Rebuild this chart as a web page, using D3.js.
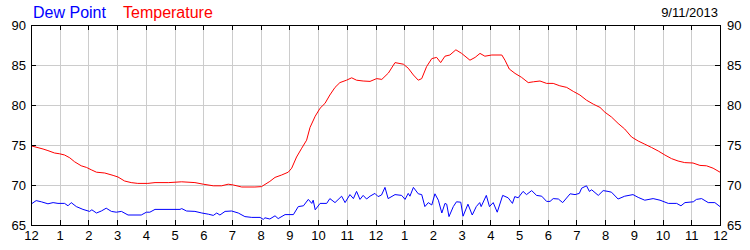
<!DOCTYPE html>
<html>
<head>
<meta charset="utf-8">
<script src="https://cdn.jsdelivr.net/npm/d3@7"></script>
<style>
  body { margin: 0; background: #fff; }
  svg { display: block; font-family: "Liberation Sans", Arial, sans-serif; }
  .grid line { stroke: #cccccc; shape-rendering: crispEdges; }
  .axis path, .axis line { stroke: #000; shape-rendering: crispEdges; }
  .axis text { font-size: 13px; fill: #000; }
</style>
</head>
<body>
<div id="chart"></div>
<script>
// hour labels along the bottom (midnight to midnight)
var hourLabels = ["12","1","2","3","4","5","6","7","8","9","10","11","12","1","2","3","4","5","6","7","8","9","10","11","12"];
var tempTicks = [65, 70, 75, 80, 85, 90];

// temperature readings (hour of day, deg F)
var tempHours = [0, 0.42, 0.59, 0.82, 1.0, 1.17, 1.35, 1.52, 1.75, 1.93, 2.1, 2.28, 2.57, 2.86, 3.03, 3.26, 3.49, 3.72, 4.07,
  4.32, 4.8, 5.25, 5.71, 6.0, 6.35, 6.64, 6.87, 7.05, 7.34, 7.8, 8.03, 8.32, 8.5, 8.73, 8.96, 9.08, 9.25, 9.43, 9.6, 9.72, 9.9,
  10.07, 10.24, 10.41, 10.59, 10.76, 10.99, 11.17, 11.34, 11.57, 11.81, 12.04, 12.22, 12.45, 12.68, 12.97, 13.14, 13.32, 13.49,
  13.61, 13.78, 13.96, 14.13, 14.27, 14.42, 14.59, 14.8, 15.0, 15.29, 15.47, 15.64, 15.81, 16.05, 16.4, 16.51, 16.66, 16.86,
  17.09, 17.32, 17.5, 17.73, 17.96, 18.19, 18.42, 18.66, 18.89, 19.12, 19.35, 19.59, 19.82, 19.99, 20.22, 20.45, 20.68, 20.92,
  21.15, 21.38, 21.61, 21.85, 22.08, 22.31, 22.54, 22.77, 23.06, 23.3, 23.53, 23.76, 24];
var tempValues = [74.9, 74.5, 74.3, 74.0, 73.9, 73.75, 73.4, 72.9, 72.4, 72.2, 71.9, 71.6, 71.5, 71.2, 71.0, 70.5, 70.3, 70.2, 70.2,
  70.3, 70.3, 70.4, 70.3, 70.1, 69.9, 69.9, 70.1, 70.0, 69.75, 69.75, 69.8, 70.45, 70.95, 71.25, 71.6, 72.1, 73.5, 74.6, 75.6, 77.2, 78.6,
  79.6, 80.2, 81.25, 82.2, 82.8, 83.1, 83.4, 83.1, 83.0, 82.95, 83.3, 83.2, 84.0, 85.3, 85.1, 84.6, 83.75, 83.1,
  83.3, 84.8, 85.8, 85.95, 85.3, 86.1, 86.25, 86.9, 86.45, 85.6, 85.95, 86.45, 86.1, 86.25, 86.25, 85.6, 84.5, 83.95,
  83.45, 82.8, 82.9, 83.0, 82.7, 82.7, 82.4, 82.2, 81.7, 81.25, 80.6, 80.1, 79.7, 79.1, 78.5, 77.7, 77.0, 76.0,
  75.5, 75.1, 74.7, 74.25, 73.75, 73.3, 73.0, 72.8, 72.75, 72.45, 72.4, 72.1, 71.6];

// dew point readings (hour of day, deg F)
var dewHours = [0, 0.18, 0.36, 0.59, 0.77, 0.94, 1.17, 1.29, 1.4, 1.58, 1.81, 2.04, 2.12, 2.28, 2.45, 2.62, 2.8, 2.97, 3.15, 3.38,
  3.84, 4.02, 4.14, 4.32, 5.19, 5.25, 5.42, 5.71, 5.95, 6.18, 6.35, 6.47, 6.58, 6.76, 6.99, 7.22, 7.45, 7.69, 7.98, 8.09,
  8.15, 8.32, 8.5, 8.61, 8.85, 9.14, 9.31, 9.49, 9.66, 9.78, 9.83, 9.9, 10.07, 10.3, 10.41, 10.59, 10.82, 10.94, 11.11, 11.23,
  11.34, 11.46, 11.57, 11.69, 11.81, 11.98, 12.09, 12.21, 12.33, 12.44, 12.68, 12.91, 13.03, 13.14, 13.2, 13.32, 13.49, 13.61,
  13.72, 13.84, 13.96, 14.07, 14.19, 14.31, 14.42, 14.48, 14.56, 14.71, 14.82, 14.97, 15.05, 15.22, 15.37, 15.51, 15.63, 15.68,
  15.86, 15.97, 16.1, 16.24, 16.43, 16.62, 16.77, 16.85, 16.97, 17.14, 17.26, 17.44, 17.61, 17.79, 17.96, 18.08, 18.19, 18.37,
  18.52, 18.78, 18.95, 19.1, 19.18, 19.35, 19.45, 19.53, 19.76, 19.93, 20.1, 20.22, 20.45, 20.68, 20.97, 21.15, 21.38, 21.67,
  21.91, 22.2, 22.49, 22.64, 22.78, 23.07, 23.18, 23.36, 23.59, 23.82, 24];
var dewValues = [67.6, 68.05, 67.9, 67.65, 67.8, 67.7, 67.7, 67.4, 67.8, 67.3, 66.95, 66.7, 66.9, 66.5, 66.75, 67.1, 66.7, 66.6, 66.7, 66.25,
  66.25, 66.6, 66.6, 66.95, 66.95, 67.05, 66.75, 66.7, 66.5, 66.35, 66.2, 66.5, 66.25, 66.7, 66.75, 66.5, 66.05, 65.95, 65.95, 65.7,
  65.9, 65.75, 66.15, 65.8, 66.3, 66.3, 67.3, 67.4, 68.2, 67.7, 68.1, 66.9, 67.7, 67.7, 68.3, 67.8, 68.6, 67.8, 68.8, 68.3,
  69.2, 68.2, 68.7, 68.25, 68.6, 68.95, 68.55, 68.75, 69.7, 68.3, 68.8, 68.7, 68.2, 68.95, 68.6, 69.7, 68.9, 68.8,
  67.3, 67.8, 67.5, 68.9, 68.1, 66.5, 67.7, 67.6, 66.05, 67.3, 67.9, 67.85, 66.1, 67.6, 66.25, 67.3, 67.8, 67.3,
  68.7, 67.3, 67.8, 66.6, 68.7, 68.4, 67.7, 68.55, 68.4, 69.2, 68.8, 69.3, 68.7, 68.6, 67.95, 67.95, 68.3, 68.25,
  67.8, 68.9, 68.8, 68.95, 69.6, 69.9, 69.2, 69.4, 68.7, 69.3, 69.2, 69.1, 68.25, 68.6, 68.8, 68.45, 68.1, 68.3,
  68.1, 67.7, 67.7, 67.4, 67.8, 67.9, 68.2, 68.3, 67.8, 67.8, 67.3];

var chartDate = "9/11/2013";

var width = 750,
    height = 250;
var margin = { top: 25, right: 30, bottom: 25, left: 31 };
var plotW = width - margin.left - margin.right,
    plotH = height - margin.top - margin.bottom;

var svg = d3.select("#chart").append("svg")
    .attr("width", width)
    .attr("height", height);

var x = d3.scaleLinear().domain([0, 24]).range([0, plotW]);
var y = d3.scaleLinear().domain([65, 90]).range([plotH, 0]);

var g = svg.append("g")
    .attr("transform", "translate(" + margin.left + "," + margin.top + ")");

var hourTicks = d3.range(0, 25);

// grid
g.append("g").attr("class", "grid")
    .selectAll("line.v")
    .data(hourTicks.slice(1, -1))
    .enter().append("line")
    .attr("x1", function (d) { return Math.round(x(d)) + 0.5; })
    .attr("x2", function (d) { return Math.round(x(d)) + 0.5; })
    .attr("y1", 0)
    .attr("y2", plotH);

g.append("g").attr("class", "grid")
    .selectAll("line.h")
    .data(tempTicks.slice(1, -1))
    .enter().append("line")
    .attr("x1", 0)
    .attr("x2", plotW)
    .attr("y1", function (d) { return Math.round(y(d)) + 0.5; })
    .attr("y2", function (d) { return Math.round(y(d)) + 0.5; });

// lines
var dewData = dewHours.map(function (h, i) { return [h, dewValues[i]]; });
var tempData = tempHours.map(function (h, i) { return [h, tempValues[i]]; });

var line = d3.line()
    .x(function (d) { return x(d[0]); })
    .y(function (d) { return y(d[1]); });

g.append("path")
    .datum(dewData)
    .attr("d", line)
    .attr("fill", "none")
    .attr("stroke", "#0000ff")
    .attr("stroke-width", 1);

g.append("path")
    .datum(tempData)
    .attr("d", line)
    .attr("fill", "none")
    .attr("stroke", "#ff0000")
    .attr("stroke-width", 1);

// axes, ticks pointing inside
var xBottom = d3.axisBottom(x)
    .tickValues(hourTicks)
    .tickFormat(function (d) { return hourLabels[d]; })
    .tickSizeInner(-5).tickSizeOuter(0).tickPadding(4);

var xTop = d3.axisTop(x)
    .tickValues(hourTicks)
    .tickFormat("")
    .tickSizeInner(-5).tickSizeOuter(0);

var yLeft = d3.axisLeft(y)
    .tickValues(tempTicks)
    .tickSizeInner(-5).tickSizeOuter(0).tickPadding(5);

var yRight = d3.axisRight(y)
    .tickValues(tempTicks)
    .tickSizeInner(-5).tickSizeOuter(0).tickPadding(7);

g.append("g").attr("class", "axis")
    .attr("transform", "translate(0," + plotH + ")")
    .call(xBottom)
    .selectAll("text").attr("dy", "0.85em");

g.append("g").attr("class", "axis").call(xTop);
g.append("g").attr("class", "axis").call(yLeft);
g.append("g").attr("class", "axis")
    .attr("transform", "translate(" + plotW + ",0)")
    .call(yRight);

// legend and date
svg.append("text")
    .attr("x", 33).attr("y", 18)
    .attr("font-size", "16px")
    .attr("fill", "#0000ff")
    .text("Dew Point");

svg.append("text")
    .attr("x", 123).attr("y", 18)
    .attr("font-size", "16px")
    .attr("fill", "#ff0000")
    .text("Temperature");

svg.append("text")
    .attr("x", 718).attr("y", 17)
    .attr("text-anchor", "end")
    .attr("font-size", "13px")
    .attr("fill", "#000")
    .text(chartDate);
</script>
</body>
</html>
